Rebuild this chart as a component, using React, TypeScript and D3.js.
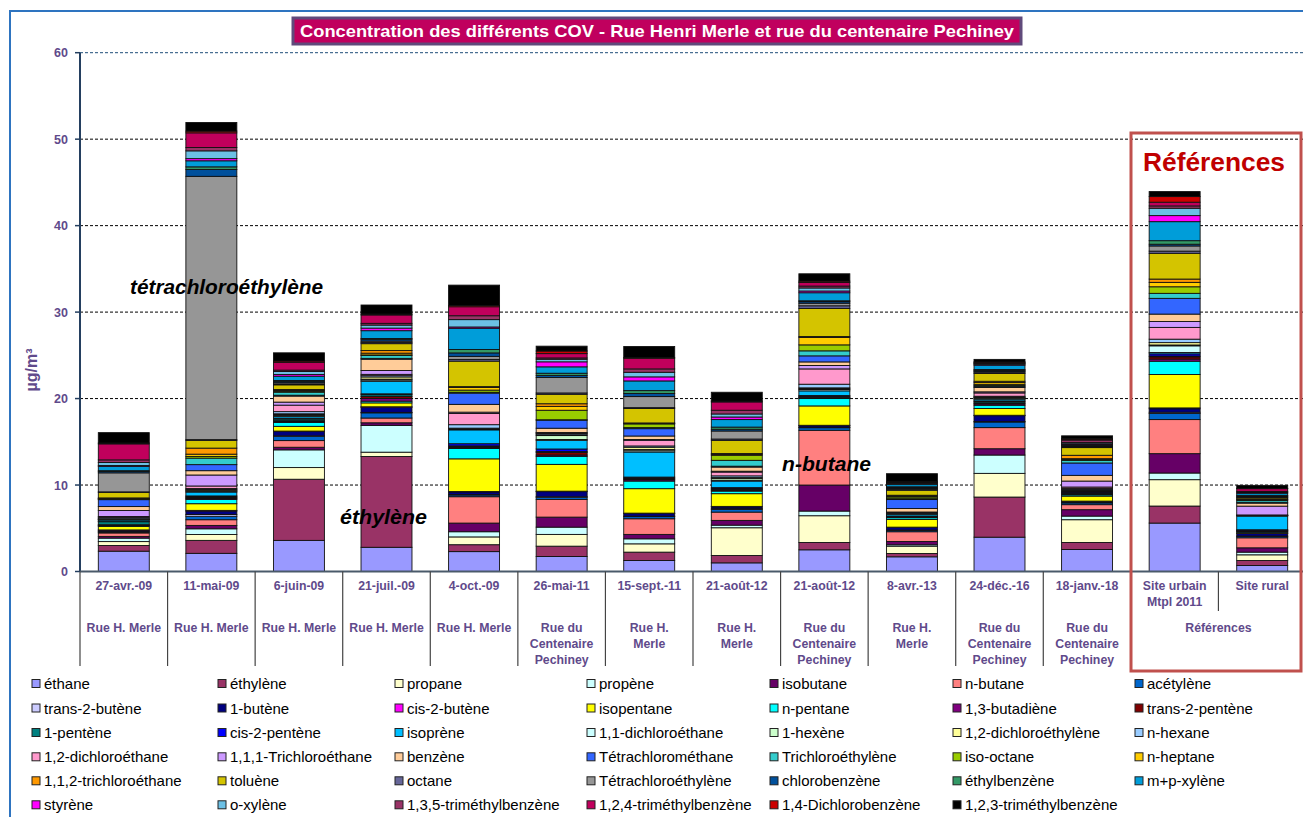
import React from 'react';
import * as d3 from 'd3';

// ---------- categories ----------
const dates = ['27-avr.-09', '11-mai-09', '6-juin-09', '21-juil.-09', '4-oct.-09', '26-mai-11', '15-sept.-11', '21-août-12', '21-août-12', '8-avr.-13', '24-déc.-16', '18-janv.-18', 'Site urbain|Mtpl 2011', 'Site rural'];
const places = ['Rue H. Merle', 'Rue H. Merle', 'Rue H. Merle', 'Rue H. Merle', 'Rue H. Merle', 'Rue du|Centenaire|Pechiney', 'Rue H.|Merle', 'Rue H.|Merle', 'Rue du|Centenaire|Pechiney', 'Rue H.|Merle', 'Rue du|Centenaire|Pechiney', 'Rue du|Centenaire|Pechiney', 'Références', ''];
const yTicks = [0, 10, 20, 30, 40, 50, 60];

// ---------- series (stack order = legend order) ----------
const seriesNames = ['éthane', 'éthylène', 'propane', 'propène', 'isobutane', 'n-butane', 'acétylène', 'trans-2-butène', '1-butène', 'cis-2-butène', 'isopentane', 'n-pentane', '1,3-butadiène', 'trans-2-pentène', '1-pentène', 'cis-2-pentène', 'isoprène', '1,1-dichloroéthane', '1-hexène', '1,2-dichloroéthylène', 'n-hexane', '1,2-dichloroéthane', '1,1,1-Trichloroéthane', 'benzène', 'Tétrachlorométhane', 'Trichloroéthylène', 'iso-octane', 'n-heptane', '1,1,2-trichloroéthane', 'toluène', 'octane', 'Tétrachloroéthylène', 'chlorobenzène', 'éthylbenzène', 'm+p-xylène', 'styrène', 'o-xylène', '1,3,5-triméthylbenzène', '1,2,4-triméthylbenzène', '1,4-Dichlorobenzène', '1,2,3-triméthylbenzène'];
const seriesColors = ['#9999FF', '#993366', '#FFFFCC', '#CCFFFF', '#660066', '#FF8080', '#0066CC', '#CCCCFF', '#000080', '#FF00FF', '#FFFF00', '#00FFFF', '#800080', '#800000', '#008080', '#0000FF', '#00BFFF', '#CCFFFF', '#CCFFCC', '#FFFF99', '#99CCFF', '#FF99CC', '#CC99FF', '#FFCC99', '#3366FF', '#33CCCC', '#99CC00', '#FFCC00', '#FF9900', '#D4C400', '#666699', '#969696', '#00509C', '#339966', '#009DD9', '#FF00FF', '#6CC0E5', '#993366', '#C0005C', '#CC0000', '#000000'];

const ethane = [2.35, 2.1, 3.6, 2.8, 2.3, 1.74, 1.27, 1.0, 2.51, 1.7, 3.97, 2.55, 5.6, 0.69];
const ethylene = [0.66, 1.5, 7.07, 10.5, 0.8, 1.19, 0.97, 0.85, 0.85, 0.38, 4.64, 0.81, 1.97, 0.58];
const propane = [0.45, 0.68, 1.35, 0.5, 0.9, 1.36, 0.96, 3.21, 3.09, 0.85, 2.74, 2.63, 3.05, 0.66];
const propene = [0.4, 0.66, 2.05, 3.1, 0.6, 0.84, 0.58, 0.3, 0.54, 0.16, 2.12, 0.42, 0.77, 0.31];
const isobutane = [0.2, 0.39, 0.3, 0.3, 1.0, 1.16, 0.51, 0.55, 3.01, 0.38, 0.73, 0.74, 2.24, 0.5];
const nButane = [0.4, 0.66, 0.77, 0.55, 3.05, 2.05, 1.81, 0.96, 6.33, 1.13, 2.44, 0.58, 3.94, 1.16];
const acetylene = [0.1, 0.4, 0.5, 0.6, 0.2, 0.25, 0.25, 0.3, 0.3, 0.15, 0.65, 0.2, 0.7, 0.15];
const trans2Butene = [0.05, 0.2, 0.05, 0.05, 0.05, 0.05, 0.05, 0.1, 0.05, 0.05, 0.05, 0.05, 0.15, 0.05];
const butene1 = [0.15, 0.4, 0.5, 0.6, 0.3, 0.6, 0.3, 0.2, 0.18, 0.28, 0.68, 0.11, 0.4, 0.3];
const cis2Butene = [0.05, 0.08, 0.05, 0.05, 0.05, 0.05, 0.05, 0.06, 0.05, 0.05, 0.05, 0.05, 0.1, 0.03];
const isopentane = [0.4, 0.77, 0.55, 0.45, 3.78, 3.1, 2.83, 1.47, 2.24, 0.89, 0.78, 0.58, 3.86, 0.1];
const nPentane = [0.1, 0.5, 0.45, 0.2, 1.2, 0.93, 0.88, 0.3, 0.85, 0.2, 0.38, 0.15, 1.54, 0.1];
const butadiene = [0.05, 0.1, 0.1, 0.3, 0.1, 0.15, 0.15, 0.1, 0.1, 0.05, 0.15, 0.1, 0.25, 0.05];
const trans2Pentene = [0.05, 0.1, 0.1, 0.25, 0.1, 0.3, 0.1, 0.1, 0.05, 0.05, 0.1, 0.1, 0.25, 0.05];
const pentene1 = [0.35, 0.1, 0.2, 0.2, 0.1, 0.1, 0.1, 0.1, 0.1, 0.05, 0.15, 0.1, 0.1, 0.05];
const cis2Pentene = [0.05, 0.1, 0.1, 0.1, 0.25, 0.3, 0.11, 0.1, 0.1, 0.05, 0.1, 0.05, 0.25, 0.05];
const isoprene = [0.15, 0.45, 0.2, 1.45, 1.6, 1.0, 2.9, 0.76, 0.54, 0.2, 0.2, 0.1, 0.16, 1.58];
const dichloroethane11 = [0.05, 0.1, 0.1, 0.15, 0.1, 0.1, 0.15, 0.1, 0.15, 0.05, 0.1, 0.1, 0.77, 0.05];
const hexene1 = [0.05, 0.1, 0.1, 0.1, 0.05, 0.45, 0.15, 0.2, 0.1, 0.03, 0.1, 0.05, 0.1, 0.02];
const dichloroethylene12 = [0.05, 0.1, 0.1, 0.25, 0.05, 0.1, 0.25, 0.1, 0.1, 0.03, 0.05, 0.05, 0.27, 0.02];
const nHexane = [0.15, 0.1, 0.25, 0.15, 0.4, 0.15, 0.15, 0.2, 0.42, 0.05, 0.09, 0.1, 0.4, 0.02];
const dichloroethane12 = [0.1, 0.3, 0.75, 0.15, 1.3, 0.05, 0.65, 0.44, 1.77, 0.05, 0.38, 0.15, 1.36, 0.02];
const trichloroethane111 = [0.7, 1.27, 0.35, 0.45, 0.15, 0.05, 0.1, 0.1, 0.4, 0.05, 0.13, 0.69, 0.69, 1.02];
const benzene = [0.45, 0.5, 0.7, 1.3, 0.9, 0.5, 0.4, 0.48, 0.41, 0.4, 0.5, 0.66, 0.85, 0.35];
const tetrachloromethane = [0.8, 0.7, 0.1, 0.1, 1.3, 0.93, 0.85, 0.1, 0.7, 1.04, 0.1, 1.43, 1.82, 0.1];
const trichloroethylene = [0.05, 0.75, 0.35, 0.35, 0.1, 0.05, 0.12, 0.68, 0.58, 0.1, 0.12, 0.3, 0.58, 0.2];
const isoOctane = [0.05, 0.2, 0.1, 0.05, 0.25, 1.1, 0.43, 0.58, 0.69, 0.2, 0.15, 0.1, 0.76, 0.1];
const nHeptane = [0.05, 0.26, 0.1, 0.2, 0.3, 0.45, 0.06, 0.1, 0.86, 0.1, 0.2, 0.1, 0.51, 0.05];
const trichloroethane112 = [0.05, 0.7, 0.1, 0.3, 0.1, 0.3, 0.05, 0.1, 0.1, 0.1, 0.15, 0.39, 0.38, 0.05];
const toluene = [0.65, 0.9, 0.55, 0.8, 2.95, 1.1, 1.67, 1.53, 3.26, 0.58, 0.9, 0.89, 2.98, 0.15];
const octane = [0.05, 0.08, 0.1, 0.15, 0.2, 0.15, 0.1, 0.15, 0.3, 0.1, 0.15, 0.1, 0.25, 0.05];
const tetrachloroethylene = [2.2, 30.45, 0.15, 0.15, 0.35, 1.78, 1.28, 0.93, 0.3, 0.1, 0.1, 0.1, 0.6, 0.05];
const chlorobenzene = [0.15, 0.8, 0.15, 0.2, 0.4, 0.25, 0.35, 0.2, 0.18, 0.1, 0.1, 0.05, 0.2, 0.1];
const ethylbenzene = [0.1, 0.3, 0.1, 0.1, 0.4, 0.25, 0.34, 0.25, 0.1, 0.1, 0.11, 0.1, 0.41, 0.05];
const mpXylene = [0.5, 0.7, 0.5, 0.9, 2.45, 0.74, 1.12, 0.87, 0.93, 0.25, 0.5, 0.05, 2.2, 0.25];
const styrene = [0.1, 0.25, 0.2, 0.3, 0.15, 0.58, 0.47, 0.3, 0.2, 0.05, 0.1, 0.05, 0.7, 0.05];
const oXylene = [0.35, 0.9, 0.35, 0.35, 0.85, 0.3, 0.53, 0.35, 0.35, 0.1, 0.1, 0.15, 0.85, 0.1];
const tmb135 = [0.3, 0.38, 0.15, 0.2, 0.45, 0.15, 0.39, 0.43, 0.22, 0.05, 0.05, 0.27, 0.27, 0.06];
const tmb124 = [1.85, 1.7, 0.9, 0.97, 1.04, 0.5, 1.23, 0.96, 0.42, 0.1, 0.1, 0.1, 0.43, 0.31];
const dcb14 = [0.1, 0.2, 0.15, 0.1, 0.15, 0.3, 0.1, 0.1, 0.15, 0.02, 0.02, 0.05, 0.65, 0.03];
const tmb123 = [1.2, 1.0, 0.95, 1.05, 2.35, 0.56, 1.26, 1.02, 0.85, 0.94, 0.3, 0.34, 0.58, 0.35];

const seriesValues = [ethane, ethylene, propane, propene, isobutane, nButane, acetylene, trans2Butene, butene1, cis2Butene, isopentane, nPentane, butadiene, trans2Pentene, pentene1, cis2Pentene, isoprene, dichloroethane11, hexene1, dichloroethylene12, nHexane, dichloroethane12, trichloroethane111, benzene, tetrachloromethane, trichloroethylene, isoOctane, nHeptane, trichloroethane112, toluene, octane, tetrachloroethylene, chlorobenzene, ethylbenzene, mpXylene, styrene, oXylene, tmb135, tmb124, dcb14, tmb123];

const FONT = "Arial, 'Liberation Sans', Helvetica, sans-serif";
const PURPLE = '#5F4A8B';

export default function App() {
  const W = 1303, H = 817;
  const left = 80, right = 1306, top = 52.7, bottom = 571.5;
  const idx = dates.map((_, i) => i);
  const x = d3.scaleBand<number>().domain(idx).range([left, right]).paddingInner(0.418).paddingOuter(0.209);
  const y = d3.scaleLinear().domain([0, 60]).range([bottom, top]);
  const band = (right - left) / dates.length;
  const keys = seriesNames.map((_, i) => i);
  const table = idx.map(i => {
    const row: Record<number, number> = {};
    keys.forEach(k => { row[k] = seriesValues[k][i]; });
    return row;
  });
  const stack = d3.stack<Record<number, number>, number>().keys(keys).value((d, k) => d[k]);
  const layers = stack(table);

  const legendX = [32, 218, 395, 587, 770, 953, 1135];
  const legendY = [684, 708.5, 733, 757.3, 781.3, 805.3];

  return (
    <svg width={W} height={H} style={{ position: 'absolute', left: 0, top: 0, background: '#fff' }} fontFamily={FONT}>
      <rect x={0} y={0} width={W} height={H} fill="#fff" />
      {/* outer border */}
      <rect x={10} y={11} width={W + 40} height={H + 40} fill="none" stroke="#2E74C0" strokeWidth={2} />
      {/* title */}
      <rect x={293} y={18} width={728} height={26} fill="#C0005E" stroke="#604A7B" strokeWidth={3} />
      <text x={300} y={37} fill="#fff" fontWeight="bold" fontSize={17} textLength={714} lengthAdjust="spacingAndGlyphs">Concentration des différents COV - Rue Henri Merle et  rue du centenaire Pechiney</text>

      {/* gridlines */}
      {yTicks.filter(t => t > 0).map(t => (
        <line key={'g' + t} x1={left} x2={right} y1={y(t)} y2={y(t)} stroke={t === 60 ? '#1F4E79' : '#000'} strokeWidth={1} strokeDasharray="3,2" />
      ))}
      {/* y ticks labels */}
      {yTicks.map(t => (
        <g key={'t' + t}>
          <line x1={left - 5} x2={left} y1={y(t)} y2={y(t)} stroke="#243F60" strokeWidth={1.5} />
          <text x={left - 12} y={y(t) + 4.5} textAnchor="end" fill={PURPLE} fontWeight="bold" fontSize={12.5}>{t}</text>
        </g>
      ))}
      <text transform={`translate(37,${370}) rotate(-90)`} textAnchor="middle" fill={PURPLE} fontWeight="bold" fontSize={16}>µg/m³</text>

      {/* bars */}
      {layers.map((layer, li) => (
        <g key={'l' + li}>
          {layer.map((d, ci) => {
            const h = y(d[0]) - y(d[1]);
            if (h <= 0) return null;
            return <rect key={ci} x={x(ci)} y={y(d[1])} width={x.bandwidth()} height={h} fill={seriesColors[li]} stroke="#111" strokeWidth={0.9} />;
          })}
        </g>
      ))}

      {/* axes */}
      <line x1={left} x2={left} y1={top} y2={bottom} stroke="#243F60" strokeWidth={2} />
      <line x1={left} x2={right} y1={bottom} y2={bottom} stroke="#4A5A6A" strokeWidth={2} />

      {/* category separators */}
      {d3.range(0, dates.length + 1).map(k => {
        const xx = left + k * band;
        const y2 = k === 13 ? 611 : 666;
        return <line key={'s' + k} x1={xx} x2={xx} y1={bottom} y2={y2} stroke="#444" strokeWidth={1.2} />;
      })}

      {/* category labels */}
      {dates.map((d, i) => {
        const cx = (x(i) as number) + x.bandwidth() / 2;
        return (
          <text key={'d' + i} x={cx} y={590} textAnchor="middle" fill={PURPLE} fontWeight="bold" fontSize={12.3}>
            {d.split('|').map((ln, j) => <tspan key={j} x={cx} dy={j === 0 ? 0 : 16}>{ln}</tspan>)}
          </text>
        );
      })}
      {places.map((p, i) => {
        if (!p) return null;
        let cx = (x(i) as number) + x.bandwidth() / 2;
        if (i === 12) cx = left + 13 * band;
        return (
          <text key={'p' + i} x={cx} y={632} textAnchor="middle" fill={PURPLE} fontWeight="bold" fontSize={12.3}>
            {p.split('|').map((ln, j) => <tspan key={j} x={cx} dy={j === 0 ? 0 : 16}>{ln}</tspan>)}
          </text>
        );
      })}

      {/* annotations */}
      <text x={130} y={294} fontWeight="bold" fontStyle="italic" fontSize={20} fill="#000" textLength={193} lengthAdjust="spacingAndGlyphs">tétrachloroéthylène</text>
      <text x={340} y={524} fontWeight="bold" fontStyle="italic" fontSize={20} fill="#000" textLength={87} lengthAdjust="spacingAndGlyphs">éthylène</text>
      <text x={782} y={471} fontWeight="bold" fontStyle="italic" fontSize={20} fill="#000" textLength={89} lengthAdjust="spacingAndGlyphs">n-butane</text>

      {/* references box */}
      <rect x={1131} y={133} width={170} height={538} fill="none" stroke="#C0504D" strokeWidth={3} />
      <text x={1143} y={171} fill="#C00000" fontWeight="bold" fontSize={25} textLength={142} lengthAdjust="spacingAndGlyphs">Références</text>

      {/* legend */}
      {seriesNames.map((n, i) => {
        const col = i % 7, row = Math.floor(i / 7);
        const lx = legendX[col], ly = legendY[row];
        return (
          <g key={'lg' + i}>
            <rect x={lx} y={ly - 4.5} width={8} height={8} fill={seriesColors[i]} stroke="#222" strokeWidth={1} />
            <text x={lx + 12} y={ly + 5} fontSize={15} fill="#000">{n}</text>
          </g>
        );
      })}
    </svg>
  );
}
